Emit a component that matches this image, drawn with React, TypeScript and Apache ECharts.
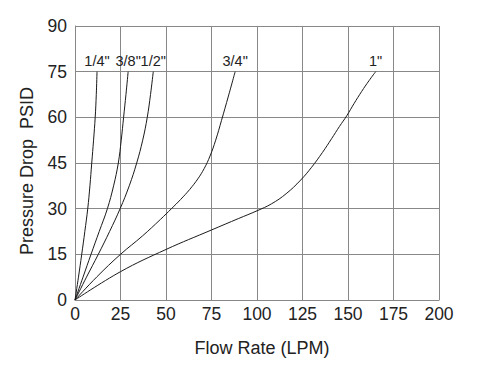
import React, { useEffect, useRef } from "react";
import * as echarts from "echarts";

const xTicks = [0, 25, 50, 75, 100, 125, 150, 175, 200];
const yTicks = [0, 15, 30, 45, 60, 75, 90];

const seriesNames = ['1/4"', '3/8"', '1/2"', '3/4"', '1"'];

// [flow LPM, pressure drop PSID]
const quarter: number[][] = [[0, 0], [1.9, 7.5], [3.7, 15], [5.4, 22.5], [7, 30], [8.2, 37.5], [9.2, 45], [10.2, 52.5], [11.1, 60], [11.7, 67.5], [12.1, 75]];
const threeEighth: number[][] = [[0, 0], [4.4, 7.5], [8.8, 15], [13.3, 22.5], [17.8, 30], [21.2, 37.5], [23.8, 45], [25.4, 52.5], [26.7, 60], [28, 67.5], [29.2, 75]];
const half: number[][] = [[0, 0], [6.3, 7.5], [12.8, 15], [19, 22.5], [24.8, 30], [29.8, 37.5], [33.9, 45], [37.2, 52.5], [39.7, 60], [41.5, 67.5], [43, 75]];
const threeQuarter: number[][] = [[0, 0], [12, 7.6], [25, 15], [37, 21], [47, 26.5], [53, 30], [58, 33], [63, 36.3], [67.5, 39.8], [71, 43.2], [74.2, 47.3], [77.3, 52.5], [80.5, 59], [84.3, 67], [88, 75]];
const one: number[][] = [[0, 0], [25, 9.3], [50, 16.6], [75, 23], [90, 26.8], [100, 29.3], [108, 31.6], [116, 34.9], [124, 39.4], [130, 43.6], [136, 48.5], [141, 53], [145.3, 57], [149.3, 60.5], [153.3, 64.5], [157.5, 68.5], [161.5, 72], [165.2, 75]];

const allData = [quarter, threeEighth, half, threeQuarter, one];

export default function App() {
  const ref = useRef<HTMLDivElement>(null);
  useEffect(() => {
    if (!ref.current) return;
    const chart = echarts.init(ref.current, undefined, { renderer: "svg" });
    const font = "Liberation Sans, Arial, sans-serif";
    chart.setOption({
      animation: false,
      backgroundColor: "#ffffff",
      grid: { left: 75, right: 47, top: 26, bottom: 65, containLabel: false },
      xAxis: {
        type: "value",
        min: xTicks[0],
        max: xTicks[xTicks.length - 1],
        interval: 25,
        name: "Flow Rate (LPM)",
        nameLocation: "middle",
        nameGap: 39,
        nameTextStyle: { fontFamily: font, fontSize: 18, color: "#222", padding: [0, 0, 0, 10] },
        axisLine: { show: true, lineStyle: { color: "#888", width: 1 } },
        axisTick: { show: false },
        axisLabel: { fontFamily: font, fontSize: 17.5, color: "#222", margin: 5 },
        splitLine: { show: true, lineStyle: { color: "#888", width: 1 } },
      },
      yAxis: {
        type: "value",
        min: yTicks[0],
        max: yTicks[yTicks.length - 1],
        interval: 15,
        name: "Pressure Drop  PSID",
        nameLocation: "middle",
        nameGap: 39,
        nameTextStyle: { fontFamily: font, fontSize: 18, color: "#222", padding: [0, 16, 0, 0] },
        axisLine: { show: true, lineStyle: { color: "#888", width: 1 } },
        axisTick: { show: false },
        axisLabel: { fontFamily: font, fontSize: 17.5, color: "#222", margin: 8 },
        splitLine: { show: true, lineStyle: { color: "#888", width: 1 } },
      },
      series: allData.map((d, i) => ({
        type: "line",
        name: seriesNames[i],
        smooth: 0.4,
        showSymbol: true,
        symbol: "circle",
        symbolSize: 0,
        lineStyle: { color: "#1a1a1a", width: 1 },
        itemStyle: { color: "#1a1a1a" },
        label: { show: false },
        labelLayout: { hideOverlap: false },
        data: d.map((p, j) =>
          j === d.length - 1
            ? {
                value: p,
                label: {
                  show: true,
                  position: "top",
                  distance: 3,
                  offset: [i === 4 ? -1 : 3, 0],
                  formatter: seriesNames[i],
                  fontFamily: font,
                  fontSize: 14.5,
                  color: "#222",
                },
              }
            : p
        ),
      })),
    });
    return () => chart.dispose();
  }, []);
  return (
    <div
      ref={ref}
      style={{ position: "absolute", left: 0, top: 0, width: 486, height: 365 }}
    />
  );
}
